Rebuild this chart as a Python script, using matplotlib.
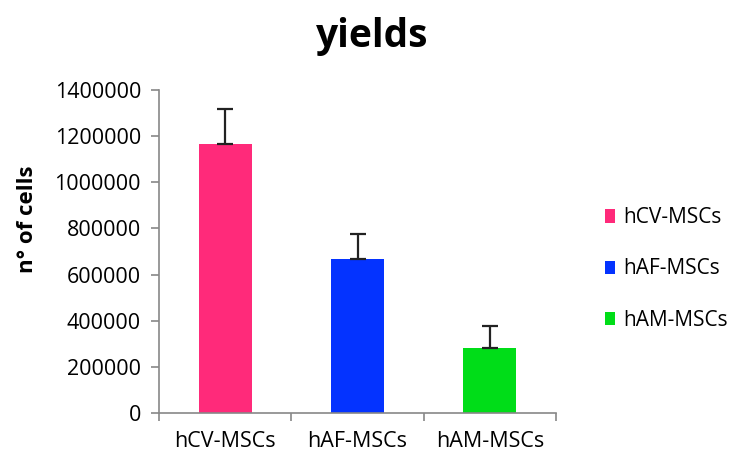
import matplotlib
matplotlib.use("Agg")
import matplotlib.pyplot as plt
from matplotlib.patches import Patch

categories = ["hCV-MSCs", "hAF-MSCs", "hAM-MSCs"]
values = [1168000, 666000, 282000]
errors = [148000, 110000, 95000]
colors = ["#FF2A7A", "#0433FF", "#00DD18"]
yticks = [0, 200000, 400000, 600000, 800000, 1000000, 1200000, 1400000]

plt.rcParams['font.family'] = ['Open Sans', 'DejaVu Sans']

fig = plt.figure(figsize=(7.38, 4.57), dpi=100)
ax = fig.add_axes([159/738, 1 - 413/457, (556-159)/738, (413-90)/457])

x = list(range(len(categories)))
ax.bar(x, values, width=0.4, color=colors, zorder=2)
ax.errorbar(x, values, yerr=[[0]*len(values), errors], fmt='none',
            ecolor='#222222', elinewidth=1.6, capsize=6, capthick=1.6, zorder=3)

ax.set_xlim(-0.5, len(categories) - 0.5)
ax.set_ylim(0, 1400000)
ax.set_yticks(yticks)
ax.set_yticklabels([str(v) for v in yticks])
ax.set_xticks(x)
ax.set_xticklabels(categories)
ax.tick_params(axis='x', length=0, labelsize=15.5, pad=13, colors='black')
ax.set_xticks([-0.5, 0.5, 1.5, 2.5], minor=True)
ax.tick_params(axis='x', which='minor', length=6, color='#888888', width=1.2)
ax.tick_params(axis='y', length=6, color='#888888', width=1.2, labelsize=15.5, pad=7)
for s in ['top', 'right']:
    ax.spines[s].set_visible(False)
for s in ['left', 'bottom']:
    ax.spines[s].set_color('#888888')
    ax.spines[s].set_linewidth(1.2)

ax.set_ylabel("n° of cells", fontsize=16, fontweight='bold')
ax.yaxis.set_label_coords(-0.305, 0.60)
fig.text(372/738, 1 - 36/457, "yields", fontsize=28, fontweight='bold',
         ha='center', va='center')

handles = [Patch(facecolor=c, label=l) for c, l in zip(colors, categories)]
fig.legend(handles=handles, loc='center left', bbox_to_anchor=(586/738, 1 - 269/457),
           frameon=False, fontsize=15, labelspacing=1.45, handlelength=0.5,
           handleheight=0.6, handletextpad=0.4)

fig.savefig("out.png", dpi=100)
